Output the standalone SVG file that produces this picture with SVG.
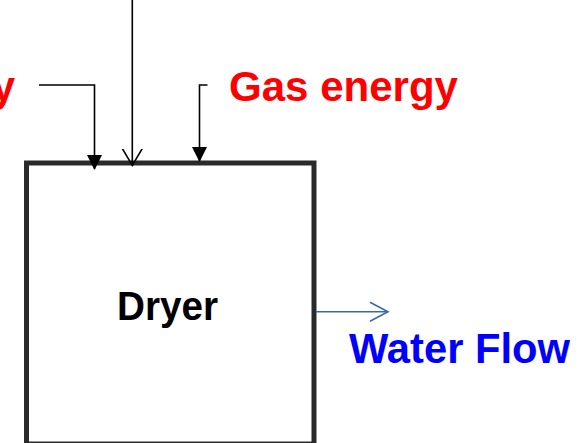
<svg xmlns="http://www.w3.org/2000/svg" width="578" height="443" viewBox="0 0 578 443">
<style>
.lbl{font-family:"Liberation Sans",Arial,sans-serif;font-weight:bold}
.ln{fill:none;stroke:#000;stroke-width:1.6}
</style>
<defs>
<marker id="filled" markerWidth="15" markerHeight="15" refX="14" refY="7.5" orient="auto" markerUnits="userSpaceOnUse">
<path d="M0,0 L15,7.5 L0,15 Z" fill="#000"/>
</marker>
<marker id="open" markerWidth="22" markerHeight="24" refX="17" refY="11" orient="auto" markerUnits="userSpaceOnUse">
<path d="M0,1 L17,11 L0,21" fill="none" stroke="#000" stroke-width="1.6"/>
</marker>
<marker id="openblue" markerWidth="22" markerHeight="24" refX="19" refY="11" orient="auto" markerUnits="userSpaceOnUse">
<path d="M1,1.5 L19,11 L1,20.5" fill="none" stroke="#3a6aa5" stroke-width="1.6"/>
</marker>
</defs>
<g id="dryer">
<rect x="26.5" y="163" width="287.5" height="281" fill="#fff" stroke="#2a2a2a" stroke-width="5"/>
<text class="lbl" x="117" y="320" font-size="40" textLength="101" lengthAdjust="spacingAndGlyphs" fill="#000">Dryer</text>
</g>
<g id="labels">
<text class="lbl" x="15" y="101" font-size="42" text-anchor="end" fill="#ff0000">y</text>
<text class="lbl" x="229" y="101" font-size="42" textLength="229" lengthAdjust="spacingAndGlyphs" fill="#ff0000">Gas energy</text>
<text class="lbl" x="349" y="362.5" font-size="42" textLength="221" lengthAdjust="spacingAndGlyphs" fill="#0000ff">Water Flow</text>
</g>
<g id="connectors">
<path class="ln" d="M39,85 H94.5 V169" marker-end="url(#filled)"/>
<path class="ln" d="M132.3,0 V165.5" marker-end="url(#open)"/>
<path class="ln" d="M207.5,85 H199.5 V161" marker-end="url(#filled)"/>
<path d="M316,311.7 H388" fill="none" stroke="#3a6aa5" stroke-width="1.6" marker-end="url(#openblue)"/>
</g>
</svg>
